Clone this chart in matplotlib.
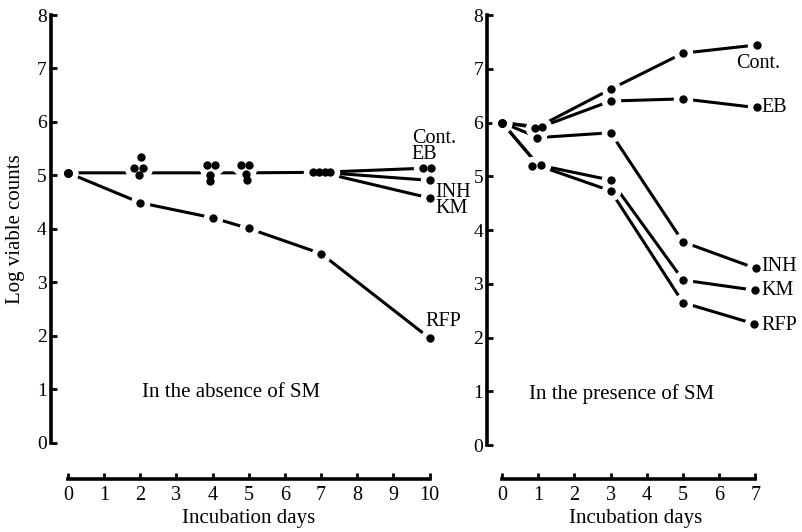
import matplotlib
matplotlib.use("Agg")
import matplotlib.pyplot as plt
from matplotlib import transforms

plt.rcParams['font.family'] = ['Liberation Serif', 'DejaVu Serif']

# ---------------- data ----------------
series_names = ["Cont.", "EB", "INH", "KM", "RFP"]

# Left panel: in the absence of SM
left_days = [0, 2, 4, 5, 7, 10]
left_cont = [5.05, 5.35, 5.19, 5.19, 5.06, 5.14]
left_eb   = [5.05, 5.14, 5.19, 5.19, 5.06, 5.14]
left_inh  = [5.05, 5.14, 5.00, 5.03, 5.06, 4.91]
left_km   = [5.05, 5.01, 4.90, 4.92, 5.06, 4.58]
left_rfp  = [5.05, 4.49, 4.21, 4.01, 3.54, 1.96]
# common line drawn through the pooled groups up to day 7
left_common_days = [0, 2, 4, 5, 7]
left_common = [5.05, 5.05, 5.05, 5.05, 5.06]

# Right panel: in the presence of SM
right_days = [0, 1, 3, 5, 7]
right_cont = [6.00, 5.92, 6.62, 7.29, 7.44]
right_eb   = [6.00, 5.90, 6.40, 6.44, 6.28]
right_inh  = [6.00, 5.72, 5.81, 3.78, 3.29]
right_km   = [6.00, 5.21, 4.93, 3.07, 2.88]
right_rfp  = [6.00, 5.20, 4.73, 2.65, 2.25]

y_ticks = [0, 1, 2, 3, 4, 5, 6, 7, 8]
left_x_ticks = [0, 1, 2, 3, 4, 5, 6, 7, 8, 9, 10]
right_x_ticks = [0, 1, 2, 3, 4, 5, 6, 7]

left_title = "In the absence of SM"
right_title = "In the presence of SM"
x_label = "Incubation days"
y_label = "Log viable counts"

# ---------------- style / layout ----------------
W, H = 802, 532
fig = plt.figure(figsize=(W / 100, H / 100), dpi=100)
fig.patch.set_facecolor("white")

LW = 2.2
MS = 6.0
HALO = 14.0

# marker offsets (pixels) to separate overlapping dots in clusters
left_dx = {
    "Cont.": [0, 0.4, -6.0, -7.7, -7.7, -6.2],
    "EB":    [0, -6.0, 2.4, 0.5, -2.0, 1.2],
    "INH":   [0, 2.4, -2.6, -3.0, 4.0, 0.0],
    "KM":    [0, -1.3, -2.6, -2.0, 9.0, 0.5],
    "RFP":   [0, 0, 0, 0, 0, 0.5],
}
right_dx = {
    "Cont.": [0, 3.5, 0, 0, 1.5],
    "EB":    [0, -3.2, 0, 0, 1.5],
    "INH":   [0, -1.5, 0, 0, 0.5],
    "KM":    [0, 2.5, 0, 0, -0.5],
    "RFP":   [0, -6.0, 0, 0, -1.5],
}


def px_rect(x0, y_top, w, h):
    return [x0 / W, 1 - (y_top + h) / H, w / W, h / H]


axL = fig.add_axes(px_rect(51, 15, 396.6, 464))
axR = fig.add_axes(px_rect(487.2, 15, 304.4, 464))
axL.set_xlim(-0.47, 10.5)
axL.set_ylim(-0.673, 8)
axR.set_xlim(-0.41, 8.0)
axR.set_ylim(-0.63, 8)


def style_axes(ax, xticks):
    ax.set_facecolor("none")
    for s in ("top", "right"):
        ax.spines[s].set_visible(False)
    ax.spines["left"].set_bounds(0, 8)
    ax.spines["bottom"].set_bounds(xticks[0], xticks[-1])
    for s in ("left", "bottom"):
        ax.spines[s].set_linewidth(2.6)
        ax.spines[s].set_color("black")
        ax.spines[s].set_capstyle("projecting")
    ax.set_yticks(y_ticks)
    ax.set_xticks(xticks)
    ax.tick_params(axis="y", direction="in", length=4.5, width=2.0,
                   labelsize=14, pad=3, colors="black")
    ax.tick_params(axis="x", direction="in", length=4.5, width=2.0,
                   labelsize=14.5, pad=5, colors="black")


style_axes(axL, left_x_ticks)
style_axes(axR, right_x_ticks)


def draw_dots(ax, days, vals, dxs):
    for d, v, dx in zip(days, vals, dxs):
        tr = transforms.offset_copy(ax.transData, fig=fig, x=dx, y=0, units="dots")
        ax.plot([d], [v], "o", ms=HALO, mfc="white", mec="white", mew=0,
                transform=tr, zorder=3, clip_on=False)
    for d, v, dx in zip(days, vals, dxs):
        tr = transforms.offset_copy(ax.transData, fig=fig, x=dx, y=0, units="dots")
        ax.plot([d], [v], "o", ms=MS, mfc="black", mec="black", mew=0,
                transform=tr, zorder=4, clip_on=False)


# ---- left panel ----
left_series = {"Cont.": left_cont, "EB": left_eb, "INH": left_inh,
               "KM": left_km, "RFP": left_rfp}
axL.plot(left_common_days, left_common, color="black", lw=LW, zorder=2,
         solid_capstyle="butt")
for name in ["Cont.", "INH", "KM"]:
    vals = left_series[name]
    axL.plot(left_days[-2:], [left_common[-1], vals[-1]], color="black", lw=LW,
             zorder=2, solid_capstyle="butt")
axL.plot(left_days, left_rfp, color="black", lw=LW, zorder=2, solid_capstyle="butt")
for name in series_names:
    draw_dots(axL, left_days, left_series[name], left_dx[name])

# stacked labels at the end of the left panel
axL.annotate("Cont.\nEB", xy=(left_days[-1], left_cont[-1]), xytext=(-17.8, 4.0),
             textcoords="offset pixels", ha="left", va="bottom",
             fontsize=14.5, linespacing=0.8, annotation_clip=False)
axL.annotate("INH\nKM", xy=(left_days[-1], left_inh[-1]), xytext=(5.5, -2.5),
             textcoords="offset pixels", ha="left", va="top",
             fontsize=14.5, linespacing=0.8, annotation_clip=False)
axL.annotate("RFP", xy=(left_days[-1], left_rfp[-1]), xytext=(-4.5, 16.3),
             textcoords="offset pixels", ha="left", va="center",
             fontsize=14.5, annotation_clip=False)

# ---- right panel ----
right_series = {"Cont.": right_cont, "EB": right_eb, "INH": right_inh,
                "KM": right_km, "RFP": right_rfp}
for name in series_names:
    axR.plot(right_days, right_series[name], color="black", lw=LW, zorder=2,
             solid_capstyle="butt")
for name in series_names:
    draw_dots(axR, right_days, right_series[name], right_dx[name])

right_label_off = {
    "Cont.": (right_cont[-1], 2.6, -18.5, "center"),
    "EB": (right_eb[-1], 5.6, 0, "left"),
    "INH": (right_inh[-1], 6.3, 1.6, "left"),
    "KM": (right_km[-1], 6.3, 0, "left"),
    "RFP": (right_rfp[-1], 6.5, -1, "left"),
}
for name, (v, dx, dy, ha) in right_label_off.items():
    axR.annotate(name, xy=(right_days[-1], v), xytext=(dx, dy),
                 textcoords="offset pixels", ha=ha, va="center",
                 fontsize=14.5, annotation_clip=False)

# ---- panel titles ----
axL.text(4.5, 0.95, left_title, ha="center", va="center", fontsize=15)
axR.text(3.3, 0.95, right_title, ha="center", va="center", fontsize=15)

# ---- axis labels ----
axL.annotate(x_label, xy=(5, H - 519), xycoords=("data", "figure pixels"),
             ha="center", va="center", fontsize=15, annotation_clip=False)
axR.annotate(x_label, xy=(3.7, H - 519), xycoords=("data", "figure pixels"),
             ha="center", va="center", fontsize=15, annotation_clip=False)
fig.text(15.5 / W, 1 - 229 / H, y_label, rotation=90, ha="center",
         va="center", fontsize=15)

fig.savefig("out.png", dpi=100, facecolor="white")
